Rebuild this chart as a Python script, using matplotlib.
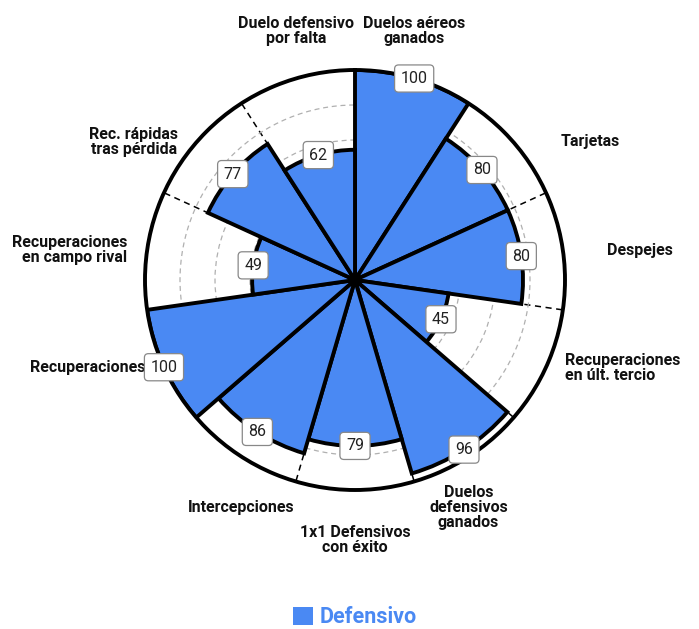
import numpy as np
import matplotlib
matplotlib.use("Agg")
import matplotlib.pyplot as plt
from matplotlib.patches import Patch

plt.rcParams['font.family'] = ['Roboto', 'DejaVu Sans']

categories = ["Duelos aéreos\nganados", "Tarjetas", "Despejes",
              "Recuperaciones\nen últ. tercio", "Duelos\ndefensivos\nganados",
              "1x1 Defensivos\ncon éxito", "Intercepciones", "Recuperaciones",
              "Recuperaciones\nen campo rival", "Rec. rápidas\ntras pérdida",
              "Duelo defensivo\npor falta"]
values = [100, 80, 80, 45, 96, 79, 86, 100, 49, 77, 62]
series_name = "Defensivo"

# label placement (angle in degrees clockwise from top, radius in data units, alignment)
label_pos = [(13.3, 122, 'center'), (59.6, 130, 'left'), (84, 136.5, 'left'),
             (108.2, 134, 'left'), (153.5, 121, 'center'), (180, 124, 'center'),
             (206.5, 121, 'center'), (251.8, 134, 'right'), (276, 136.5, 'right'),
             (301.9, 124.5, 'right'), (346.8, 122, 'center')]

BLUE = '#4A89F3'
W, H = 699, 629
fig = plt.figure(figsize=(W / 100, H / 100), dpi=100)
cx, cy, R = 355, 280, 210
ax = fig.add_axes([(cx - R) / W, (H - cy - R) / H, 2 * R / W, 2 * R / H], projection='polar')
ax.set_theta_zero_location('N')
ax.set_theta_direction(-1)

n = len(values)
width = 2 * np.pi / n
theta = np.arange(n) * width + width / 2

ax.set_axisbelow(True)
ax.bar(theta, values, width=width, color=BLUE, edgecolor='black', linewidth=2.8,
       align='center', zorder=2)
ax.scatter([0], [0], s=60, color='black', zorder=3)

ax.set_ylim(0, 100)
ax.set_yticks(np.linspace(0, 100, 7)[1:-1])
ax.set_yticklabels([])
ax.yaxis.grid(True, color='#b0b0b0', linestyle=(0, (4, 3)), linewidth=0.9)
ax.set_xticks(np.arange(n) * width)
ax.set_xticklabels([])
ax.xaxis.grid(True, color='black', linestyle=(0, (4, 3)), linewidth=1.1)
ax.spines['polar'].set_linewidth(2.8)
ax.spines['polar'].set_color('black')

for t, v in zip(theta, values):
    ax.text(t, v, f"{v}", ha='center', va='center', fontsize=11.5, color='#222222',
            zorder=5,
            bbox=dict(boxstyle='round,pad=0.38,rounding_size=0.25', fc='white',
                      ec='#888888', lw=0.9))

for name, (ang, r, al) in zip(categories, label_pos):
    ax.text(np.deg2rad(ang), r, name, ha='center', va='center', multialignment=al,
            fontsize=11.5, fontweight='bold', color='#111111', clip_on=False,
            linespacing=1.0)

fig.legend(handles=[Patch(facecolor=BLUE, edgecolor='none')], labels=[series_name],
           loc='center', bbox_to_anchor=(355 / W, 1 - 617 / H), frameon=False,
           handlelength=0.9, handleheight=0.9, handletextpad=0.3,
           prop=dict(size=15.5, weight='bold'), labelcolor=BLUE)

fig.savefig('out.png', dpi=100)
